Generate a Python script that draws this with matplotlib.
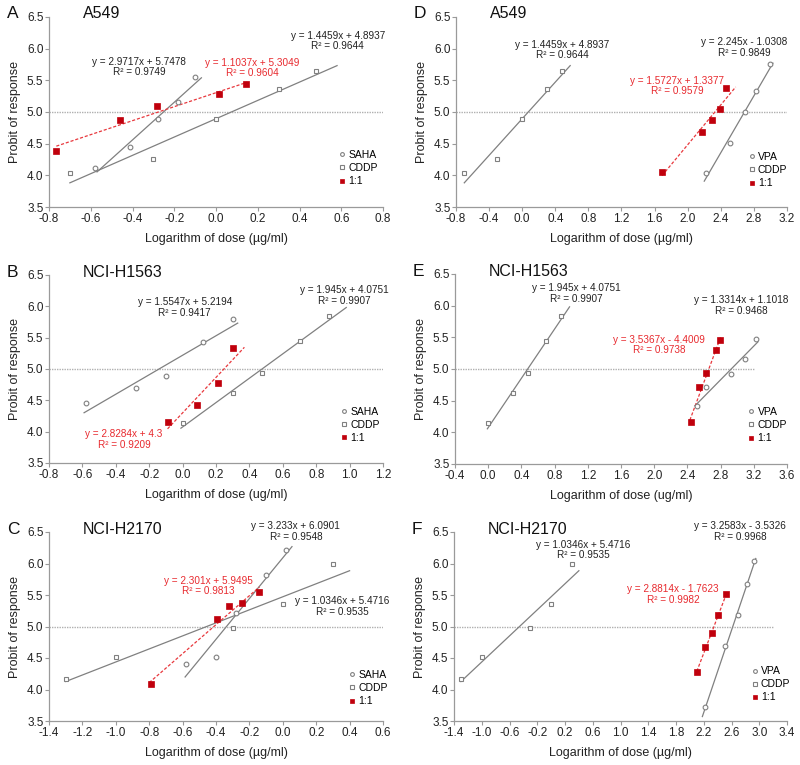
import matplotlib
matplotlib.use("Agg")
import matplotlib.pyplot as plt
import numpy as np

plt.rcParams['font.family'] = ['Liberation Sans', 'DejaVu Sans']
plt.rcParams['axes.unicode_minus'] = False

# ---------------- data ----------------
cddp_a_x = [-0.70, -0.30, 0.0, 0.30, 0.477]
cddp_a_y = [4.03, 4.25, 4.89, 5.36, 5.65]
saha_a_x = [-0.58, -0.41, -0.28, -0.18, -0.10]
saha_a_y = [4.12, 4.45, 4.89, 5.16, 5.56]
comb_a_x = [-0.765, -0.46, -0.285, 0.016, 0.142]
comb_a_y = [4.39, 4.88, 5.10, 5.28, 5.44]

vpa_d_x = [2.22, 2.51, 2.69, 2.83, 3.00]
vpa_d_y = [4.04, 4.51, 5.00, 5.33, 5.76]
comb_d_x = [1.69, 2.17, 2.29, 2.39, 2.46]
comb_d_y = [4.05, 4.69, 4.87, 5.04, 5.38]

cddp_b_x = [0.0, 0.30, 0.477, 0.70, 0.875]
cddp_b_y = [4.14, 4.62, 4.93, 5.44, 5.84]
saha_b_x = [-0.58, -0.28, -0.10, 0.12, 0.30]
saha_b_y = [4.46, 4.70, 4.89, 5.43, 5.80]
comb_b_x = [-0.09, 0.085, 0.21, 0.30]
comb_b_y = [4.15, 4.42, 4.78, 5.33]

vpa_e_x = [2.51, 2.62, 2.92, 3.09, 3.23]
vpa_e_y = [4.41, 4.72, 4.92, 5.16, 5.47]
comb_e_x = [2.445, 2.54, 2.625, 2.745, 2.795]
comb_e_y = [4.16, 4.71, 4.94, 5.30, 5.46]

cddp_c_x = [-1.30, -1.00, -0.30, 0.0, 0.30]
cddp_c_y = [4.16, 4.52, 4.98, 5.36, 6.00]
saha_c_x = [-0.58, -0.40, -0.28, -0.10, 0.02]
saha_c_y = [4.40, 4.51, 5.22, 5.82, 6.21]
comb_c_x = [-0.79, -0.395, -0.32, -0.245, -0.14]
comb_c_y = [4.09, 5.12, 5.33, 5.37, 5.55]

vpa_f_x = [2.22, 2.51, 2.70, 2.82, 2.92]
vpa_f_y = [3.73, 4.69, 5.19, 5.68, 6.04]
comb_f_x = [2.10, 2.225, 2.32, 2.40, 2.525]
comb_f_y = [4.28, 4.67, 4.90, 5.18, 5.51]

# regression fits: (slope, intercept, r2, x range of trendline)
fit_saha_a = (2.9717, 5.7478, 0.9749, [-0.57, -0.07])
fit_cddp_a = (1.4459, 4.8937, 0.9644, [-0.70, 0.58])
fit_comb_a = (1.1037, 5.3049, 0.9604, [-0.765, 0.15])
fit_vpa_d = (2.245, -1.0308, 0.9849, [2.20, 3.03])
fit_comb_d = (1.5727, 1.3377, 0.9579, [1.69, 2.58])
fit_saha_b = (1.5547, 5.2194, 0.9417, [-0.59, 0.33])
fit_cddp_b = (1.945, 4.0751, 0.9907, [-0.01, 0.98])
fit_comb_b = (2.8284, 4.3, 0.9209, [-0.09, 0.37])
fit_vpa_e = (1.3314, 1.1018, 0.9468, [2.49, 3.25])
fit_comb_e = (3.5367, -4.4009, 0.9738, [2.43, 2.80])
fit_saha_c = (3.233, 6.0901, 0.9548, [-0.585, 0.055])
fit_cddp_c = (1.0346, 5.4716, 0.9535, [-1.30, 0.40])
fit_comb_c = (2.301, 5.9495, 0.9813, [-0.80, -0.14])
fit_vpa_f = (3.2583, -3.5326, 0.9968, [2.18, 2.95])
fit_comb_f = (2.8814, -1.7623, 0.9982, [2.10, 2.53])

GRAY = '#808080'
RED_M = '#c0000c'
RED_L = '#e8383d'
RED_T = '#e82a2f'

FW, FH = 800, 765


def eqn(fit):
    s, b, r2, _ = fit
    sign = '+' if b >= 0 else '-'
    return "y = %sx %s %s\nR² = %s" % (repr(s), sign, repr(abs(b)), repr(r2))


def make_axes(l, r, t, b):
    return fig.add_axes([l / FW, 1 - b / FH, (r - l) / FW, (b - t) / FH])


fig = plt.figure(figsize=(8, 7.65), dpi=100)

panels = [
    dict(letter='A', title='A549', box=(49, 383, 17, 207), xlim=(-0.8, 0.8), step=0.2,
         drug='SAHA', dx=saha_a_x, dy=saha_a_y, dfit=fit_saha_a,
         cx=cddp_a_x, cy=cddp_a_y, cfit=fit_cddp_a,
         mx=comb_a_x, my=comb_a_y, mfit=fit_comb_a, unit='µg/ml', refend=0.8,
         deq=(-0.369, 5.71), ceq=(0.583, 6.12), meq=(0.174, 5.69), leg=(0.87, 0.30)),
    dict(letter='D', title='A549', box=(456, 787, 17, 207), xlim=(-0.8, 3.2), step=0.4,
         drug='VPA', dx=vpa_d_x, dy=vpa_d_y, dfit=fit_vpa_d,
         cx=cddp_a_x, cy=cddp_a_y, cfit=fit_cddp_a,
         mx=comb_d_x, my=comb_d_y, mfit=fit_comb_d, unit='µg/ml', refend=3.2,
         deq=(2.685, 6.02), ceq=(0.48, 5.975), meq=(1.875, 5.41), leg=(0.885, 0.29)),
    dict(letter='B', title='NCI-H1563', box=(49, 383, 275, 463), xlim=(-0.8, 1.2), step=0.2,
         drug='SAHA', dx=saha_b_x, dy=saha_b_y, dfit=fit_saha_b,
         cx=cddp_b_x, cy=cddp_b_y, cfit=fit_cddp_b,
         mx=comb_b_x, my=comb_b_y, mfit=fit_comb_b, unit='ug/ml', refend=1.2,
         deq=(0.013, 5.98), ceq=(0.967, 6.17), meq=(-0.35, 3.875), leg=(0.875, 0.30)),
    dict(letter='E', title='NCI-H1563', box=(455, 787, 274, 464), xlim=(-0.4, 3.6), step=0.4,
         drug='VPA', dx=vpa_e_x, dy=vpa_e_y, dfit=fit_vpa_e,
         cx=cddp_b_x, cy=cddp_b_y, cfit=fit_cddp_b,
         mx=comb_e_x, my=comb_e_y, mfit=fit_comb_e, unit='ug/ml', refend=3.2,
         deq=(3.054, 6.0), ceq=(1.063, 6.19), meq=(2.056, 5.38), leg=(0.885, 0.30)),
    dict(letter='C', title='NCI-H2170', box=(49, 383, 532, 721), xlim=(-1.4, 0.6), step=0.2,
         drug='SAHA', dx=saha_c_x, dy=saha_c_y, dfit=fit_saha_c,
         cx=cddp_c_x, cy=cddp_c_y, cfit=fit_cddp_c,
         mx=comb_c_x, my=comb_c_y, mfit=fit_comb_c, unit='µg/ml', refend=0.6,
         deq=(0.078, 6.51), ceq=(0.354, 5.32), meq=(-0.444, 5.64), leg=(0.90, 0.27)),
    dict(letter='F', title='NCI-H2170', box=(454, 787, 532, 721), xlim=(-1.4, 3.4), step=0.4,
         drug='VPA', dx=vpa_f_x, dy=vpa_f_y, dfit=fit_vpa_f,
         cx=cddp_c_x, cy=cddp_c_y, cfit=fit_cddp_c,
         mx=comb_f_x, my=comb_f_y, mfit=fit_comb_f, unit='µg/ml', refend=3.2,
         deq=(2.72, 6.51), ceq=(0.463, 6.21), meq=(1.755, 5.51), leg=(0.895, 0.29)),
]

for p in panels:
    l, r, t, b = p['box']
    ax = make_axes(l, r, t, b)
    x0, x1 = p['xlim']
    ax.set_xlim(x0, x1)
    ax.set_ylim(3.5, 6.5)
    n = int(round((x1 - x0) / p['step']))
    ax.set_xticks(np.linspace(x0, x1, n + 1))
    ax.set_yticks(np.arange(3.5, 6.51, 0.5))
    ax.xaxis.set_major_formatter(matplotlib.ticker.FormatStrFormatter('%.1f'))
    ax.yaxis.set_major_formatter(matplotlib.ticker.FormatStrFormatter('%.1f'))
    for s in ['top', 'right']:
        ax.spines[s].set_visible(False)
    for s in ['left', 'bottom']:
        ax.spines[s].set_color('#9a9a9a')
        ax.spines[s].set_linewidth(0.9)
    ax.tick_params(axis='both', direction='out', length=3, width=0.8, color='#9a9a9a',
                   labelsize=8.5, labelcolor='#222222', pad=1.0)
    ax.patch.set_alpha(0)

    # reference line at probit 5
    ax.plot([x0, p['refend']], [5.0, 5.0], color='#b0b0b0', lw=1.0, ls=(0, (1, 0.8)), zorder=1)

    # fit lines
    for fit, col, ls in [(p['dfit'], GRAY, '-'), (p['cfit'], GRAY, '-'), (p['mfit'], RED_L, (0, (2.5, 1.5)))]:
        s, b0, r2, xr = fit
        xs = np.array(xr)
        ax.plot(xs, s * xs + b0, color=col, lw=0.9, ls=ls, zorder=2)

    h1, = ax.plot(p['dx'], p['dy'], ls='none', marker='o', ms=3.4, mfc='white', mec=GRAY, mew=0.8, zorder=3)
    h2, = ax.plot(p['cx'], p['cy'], ls='none', marker='s', ms=3.4, mfc='white', mec=GRAY, mew=0.8, zorder=3)
    h3, = ax.plot(p['mx'], p['my'], ls='none', marker='s', ms=3.8, mfc=RED_M, mec=RED_M, mew=0.5, zorder=4)

    ax.legend([h1, h2, h3], [p['drug'], 'CDDP', '1:1'], loc='upper left',
              bbox_to_anchor=p['leg'], frameon=False, fontsize=7.5, handlelength=0.5,
              handletextpad=0.35, labelspacing=0.3, borderpad=0, borderaxespad=0,
              markerscale=0.8)

    ax.text(p['deq'][0], p['deq'][1], eqn(p['dfit']), ha='center', va='center', fontsize=7.2,
            color='#222222', linespacing=1.05)
    ax.text(p['ceq'][0], p['ceq'][1], eqn(p['cfit']), ha='center', va='center', fontsize=7.2,
            color='#222222', linespacing=1.05)
    ax.text(p['meq'][0], p['meq'][1], eqn(p['mfit']), ha='center', va='center', fontsize=7.2,
            color=RED_T, linespacing=1.05)

    ax.set_xlabel('Logarithm of dose (%s)' % p['unit'], fontsize=9, color='#222222', labelpad=6)
    ax.set_ylabel('Probit of response', fontsize=9, color='#222222', labelpad=4)

    # panel letter and title
    fig.text((l - 42) / FW, 1 - (t - 3) / FH, p['letter'], fontsize=12.5, ha='left', va='center', color='#111111')
    fig.text((l + 34) / FW, 1 - (t - 3) / FH, p['title'], fontsize=11.5, ha='left', va='center', color='#111111')

fig.savefig('out.png', dpi=100)
